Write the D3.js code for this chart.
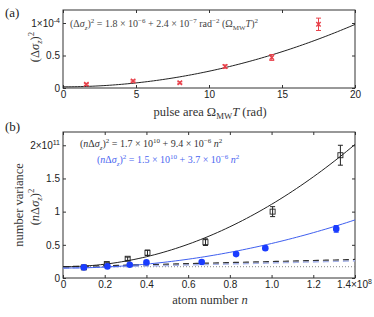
<!DOCTYPE html>
<html>
<head>
    <style>
        body { margin: 0; background: #fff; }
        .tick text { font: 10px "Liberation Sans", sans-serif; fill: #222; }
        .tick line { stroke: #333; }
        .domain { display: none; }
        .serif { font-family: "Liberation Serif", serif; }
    </style>
    <script src="https://d3js.org/d3.v7.min.js"></script>
</head>
<body>
    <svg width="374" height="317"></svg>
    <script>

        // panel (a): variance vs pulse area
        var pulseArea = [1.6, 4.8, 8.0, 11.1, 14.3, 17.5];
        var varianceA = [0.057e-4, 0.108e-4, 0.08e-4, 0.33e-4, 0.47e-4, 0.98e-4];
        var varianceAErr = [0.015e-4, 0.015e-4, 0.015e-4, 0.025e-4, 0.045e-4, 0.095e-4];
        var fitA = [1.8e-6, 2.4e-7];
        var ticksAx = [0, 5, 10, 15, 20];
        var ticksAy = [0, 0.5e-4, 1e-4];

        // panel (b): number variance vs atom number
        var atomsBlack = [0.1e8, 0.21e8, 0.31e8, 0.405e8, 0.683e8, 1.005e8, 1.33e8];
        var varBlack = [0.16e11, 0.21e11, 0.29e11, 0.38e11, 0.54e11, 1.0e11, 1.85e11];
        var varBlackErr = [0.015e11, 0.02e11, 0.025e11, 0.04e11, 0.05e11, 0.075e11, 0.15e11];
        var atomsBlue = [0.1e8, 0.213e8, 0.32e8, 0.40e8, 0.665e8, 0.83e8, 0.97e8, 1.31e8];
        var varBlue = [0.16e11, 0.175e11, 0.2e11, 0.235e11, 0.24e11, 0.36e11, 0.45e11, 0.74e11];
        var varBlueErr = [0.01e11, 0.01e11, 0.012e11, 0.015e11, 0.015e11, 0.02e11, 0.025e11, 0.05e11];
        var fitBlack = [1.7e10, 9.4e-6];
        var fitBlue = [1.5e10, 3.7e-6];
        var shotBlack = [1.7e10, 78];
        var shotBlue = [1.5e10, 78];
        var floorB = 1.7e10;
        var ticksBx = [0, 0.2e8, 0.4e8, 0.6e8, 0.8e8, 1.0e8, 1.2e8, 1.4e8];
        var ticksBxLabels = ["0", "0.2", "0.4", "0.6", "0.8", "1.0", "1.2", "1.4"];
        var ticksBy = [0, 0.5e11, 1e11, 1.5e11, 2e11];

        var svg = d3.select("svg");

        // rich text helper: segments [text, kind] kind in "", "i", "sup", "sub", "isub", "isup"
        function rich(sel, segs, size) {
            var cur = 0;
            segs.forEach(function(s) {
                var k = s[1] || "";
                var shift = k.indexOf("sup") >= 0 ? -size * 0.38 : (k.indexOf("sub") >= 0 ? size * 0.25 : 0);
                var t = sel.append("tspan").text(s[0]);
                if (shift - cur !== 0) t.attr("dy", shift - cur);
                if (shift !== 0) t.style("font-size", (size * 0.7) + "px");
                if (k.indexOf("i") === 0) t.style("font-style", "italic");
                cur = shift;
            });
        }

        function frame(g, x, y, xt, yt, xfmt, yfmt) {
            g.append("g").attr("class", "xax").attr("transform", "translate(0," + y.range()[0] + ")")
             .call(d3.axisBottom(x).tickValues(xt).tickSize(-3).tickPadding(3).tickFormat(xfmt));
            g.append("g").attr("transform", "translate(0," + y.range()[1] + ")")
             .call(d3.axisTop(x).tickValues(xt).tickSize(-3).tickFormat(""));
            g.append("g").attr("class", "yax").attr("transform", "translate(" + x.range()[0] + ",0)")
             .call(d3.axisLeft(y).tickValues(yt).tickSize(-3).tickPadding(3).tickFormat(yfmt));
            g.append("g").attr("transform", "translate(" + x.range()[1] + ",0)")
             .call(d3.axisRight(y).tickValues(yt).tickSize(-3).tickFormat(""));
            g.append("rect")
             .attr("x", x.range()[0]).attr("y", y.range()[1])
             .attr("width", x.range()[1] - x.range()[0])
             .attr("height", y.range()[0] - y.range()[1])
             .attr("fill", "none").attr("stroke", "#333").attr("stroke-width", 1);
        }

        function errorBars(g, xs, ys, es, x, y, color) {
            var eb = g.append("g").attr("stroke", color).attr("stroke-width", 1);
            xs.forEach(function(v, i) {
                var cx = x(v), y1 = y(ys[i] - es[i]), y2 = y(ys[i] + es[i]);
                eb.append("line").attr("x1", cx).attr("x2", cx).attr("y1", y1).attr("y2", y2);
                eb.append("line").attr("x1", cx - 2.5).attr("x2", cx + 2.5).attr("y1", y1).attr("y2", y1);
                eb.append("line").attr("x1", cx - 2.5).attr("x2", cx + 2.5).attr("y1", y2).attr("y2", y2);
            });
        }

        // ---------- panel (a) ----------
        var xa = d3.scaleLinear().domain([0, 20]).range([63, 355]);
        var ya = d3.scaleLinear().domain([0, 1.2e-4]).range([88, 10]);
        var ga = svg.append("g");

        frame(ga, xa, ya, ticksAx, ticksAy, d3.format("d"), function(d) {
            return d === 0 ? "0" : (d === 0.5e-4 ? "0.5" : "");
        });
        // 1x10^-4 label
        ga.selectAll(".yax .tick text").filter(function(d) { return d === 1e-4; })
          .each(function() { rich(d3.select(this), [["1×10"], ["-4", "sup"]], 10); });

        var curveA = d3.line()
            .x(function(d) { return xa(d); })
            .y(function(d) { return ya(fitA[0] + fitA[1] * d * d); });
        ga.append("path").datum(d3.range(0, 20.01, 0.2))
          .attr("d", curveA).attr("fill", "none").attr("stroke", "#222").attr("stroke-width", 1);

        errorBars(ga, pulseArea, varianceA, varianceAErr, xa, ya, "#e8404a");
        ga.selectAll(".xmark").data(pulseArea).enter().append("path")
          .attr("d", function(d, i) {
              var cx = xa(d), cy = ya(varianceA[i]), s = 2.2;
              return "M" + (cx - s) + "," + (cy - s) + "L" + (cx + s) + "," + (cy + s) +
                     "M" + (cx - s) + "," + (cy + s) + "L" + (cx + s) + "," + (cy - s);
          })
          .attr("stroke", "#e8404a").attr("stroke-width", 1.4);

        svg.append("text").attr("class", "serif").attr("x", 5).attr("y", 17)
           .style("font-size", "13px").attr("fill", "#222").text("(a)");

        var fa = svg.append("text").attr("class", "serif").attr("x", 70).attr("y", 27)
           .style("font-size", "10px").attr("fill", "#444");
        rich(fa, [["(Δ"], ["σ", "i"], ["z", "isub"], [")"], ["2", "sup"], [" = 1.8 × 10"], ["−6", "sup"],
                  [" + 2.4 × 10"], ["−7", "sup"], [" rad"], ["−2", "sup"], [" (Ω"], ["MW", "sub"],
                  ["T", "i"], [")"], ["2", "sup"]], 10);

        var yla = svg.append("text").attr("class", "serif")
           .attr("transform", "translate(39,47) rotate(-90)")
           .attr("text-anchor", "middle").style("font-size", "12.5px").attr("fill", "#333");
        rich(yla, [["(Δ"], ["σ", "i"], ["z", "isub"], [")"], ["2", "sup"]], 12.5);

        var xla = svg.append("text").attr("class", "serif").attr("x", 210).attr("y", 116)
           .attr("text-anchor", "middle").style("font-size", "12.5px").attr("fill", "#333");
        rich(xla, [["pulse area Ω"], ["MW", "sub"], ["T", "i"], [" (rad)"]], 12.5);

        // ---------- panel (b) ----------
        var xb = d3.scaleLinear().domain([0, 1.4e8]).range([63, 355]);
        var yb = d3.scaleLinear().domain([0, 2.2e11]).range([278, 132]);
        var gb = svg.append("g");

        frame(gb, xb, yb, ticksBx, ticksBy, function(d, i) { return ticksBxLabels[i]; }, function(d) {
            return d === 2e11 ? "" : d3.format("")(d / 1e11);
        });
        gb.selectAll(".yax .tick text").filter(function(d) { return d === 2e11; })
          .each(function() { rich(d3.select(this), [["2×10"], ["11", "sup"]], 10); });
        gb.selectAll(".xax .tick text").filter(function(d) { return d === 1.4e8; })
          .attr("dx", "-1")
          .each(function() { d3.select(this).text(""); rich(d3.select(this), [["1.4×10"], ["8", "sup"]], 10); });

        var nRange = d3.range(0, 1.4001e8, 0.02e8);
        function quad(c) {
            return d3.line().x(function(d) { return xb(d); })
                     .y(function(d) { return yb(c[0] + c[1] * d * d); });
        }
        function lin(c) {
            return d3.line().x(function(d) { return xb(d); })
                     .y(function(d) { return yb(c[0] + c[1] * d); });
        }

        gb.append("path").datum(xb.domain())
          .attr("d", d3.line().x(function(d) { return xb(d); }).y(function() { return yb(floorB); }))
          .attr("fill", "none").attr("stroke", "#888").attr("stroke-width", 1).attr("stroke-dasharray", "1,2");
        gb.append("path").datum(nRange).attr("d", lin(shotBlue))
          .attr("fill", "none").attr("stroke", "#a8b4e8").attr("stroke-width", 1.6).attr("stroke-dasharray", "6,4");
        gb.append("path").datum(nRange).attr("d", lin(shotBlack))
          .attr("fill", "none").attr("stroke", "#333").attr("stroke-width", 1.2).attr("stroke-dasharray", "6,4");
        gb.append("path").datum(nRange).attr("d", quad(fitBlue))
          .attr("fill", "none").attr("stroke", "#3f5fef").attr("stroke-width", 1);
        gb.append("path").datum(nRange).attr("d", quad(fitBlack))
          .attr("fill", "none").attr("stroke", "#222").attr("stroke-width", 1);

        errorBars(gb, atomsBlack, varBlack, varBlackErr, xb, yb, "#222");
        gb.selectAll(".sq").data(atomsBlack).enter().append("rect")
          .attr("x", function(d) { return xb(d) - 2.5; })
          .attr("y", function(d, i) { return yb(varBlack[i]) - 2.5; })
          .attr("width", 5).attr("height", 5)
          .attr("fill", "none").attr("stroke", "#222").attr("stroke-width", 0.9);

        errorBars(gb, atomsBlue, varBlue, varBlueErr, xb, yb, "#1a3cff");
        gb.selectAll(".dot").data(atomsBlue).enter().append("circle")
          .attr("cx", function(d) { return xb(d); })
          .attr("cy", function(d, i) { return yb(varBlue[i]); })
          .attr("r", 3.3).attr("fill", "#1a3cff");

        svg.append("text").attr("class", "serif").attr("x", 5).attr("y", 131)
           .style("font-size", "13px").attr("fill", "#222").text("(b)");

        var fb1 = svg.append("text").attr("class", "serif").attr("x", 80).attr("y", 147)
           .style("font-size", "10px").attr("fill", "#333");
        rich(fb1, [["("], ["n", "i"], ["Δ"], ["σ", "i"], ["z", "isub"], [")"], ["2", "sup"],
                   [" = 1.7 × 10"], ["10", "sup"], [" + 9.4 × 10"], ["−6", "sup"], [" "], ["n", "i"], ["2", "sup"]], 10);
        var fb2 = svg.append("text").attr("class", "serif").attr("x", 97).attr("y", 163)
           .style("font-size", "10px").attr("fill", "#4a66f0");
        rich(fb2, [["("], ["n", "i"], ["Δ"], ["σ", "i"], ["z", "isub"], [")"], ["2", "sup"],
                   [" = 1.5 × 10"], ["10", "sup"], [" + 3.7 × 10"], ["−6", "sup"], [" "], ["n", "i"], ["2", "sup"]], 10);

        svg.append("text").attr("class", "serif")
           .attr("transform", "translate(23,205) rotate(-90)")
           .attr("text-anchor", "middle").style("font-size", "12.5px").attr("fill", "#333")
           .text("number variance");
        var ylb = svg.append("text").attr("class", "serif")
           .attr("transform", "translate(39,207) rotate(-90)")
           .attr("text-anchor", "middle").style("font-size", "12.5px").attr("fill", "#333");
        rich(ylb, [["("], ["n", "i"], ["Δ"], ["σ", "i"], ["z", "isub"], [")"], ["2", "sup"]], 12.5);

        var xlb = svg.append("text").attr("class", "serif").attr("x", 210).attr("y", 304)
           .attr("text-anchor", "middle").style("font-size", "12.5px").attr("fill", "#333");
        rich(xlb, [["atom number "], ["n", "i"]], 12.5);
    </script>
</body>
</html>
